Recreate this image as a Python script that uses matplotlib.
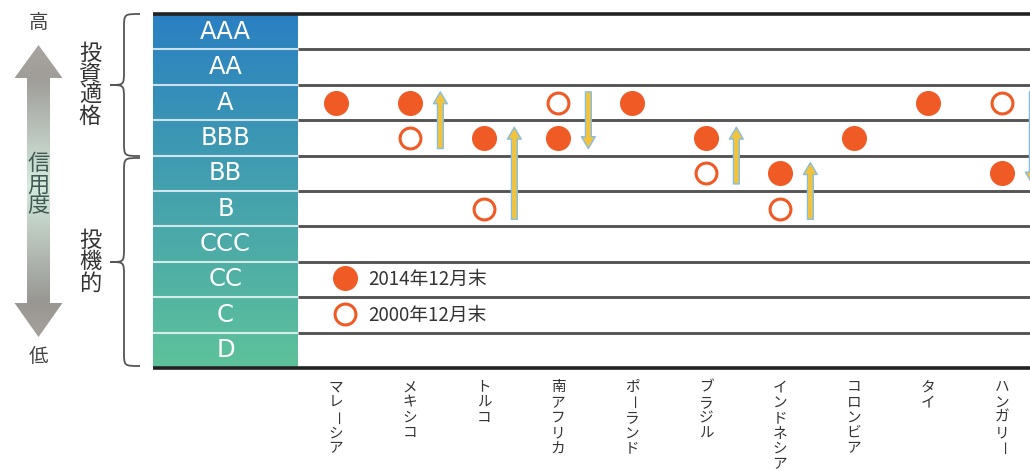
import numpy as np
import matplotlib
matplotlib.use("Agg")
import matplotlib.pyplot as plt
from matplotlib.path import Path
from matplotlib.patches import PathPatch, Polygon
from matplotlib.colors import LinearSegmentedColormap
from matplotlib.lines import Line2D

plt.rcParams['font.family'] = ['Noto Sans CJK JP', 'DejaVu Sans']

# ---------------- data ----------------
ratings = ["AAA", "AA", "A", "BBB", "BB", "B", "CCC", "CC", "C", "D"]
countries = ["マレーシア", "メキシコ", "トルコ", "南アフリカ", "ポーランド",
             "ブラジル", "インドネシア", "コロンビア", "タイ", "ハンガリー"]
rating_2014 = ["A", "A", "BBB", "BBB", "A", "BBB", "BB", "BBB", "A", "BB"]
rating_2000 = [None, "BBB", "B", "A", None, "BB", "B", None, None, "A"]
legend_labels = ["2014年12月末", "2000年12月末"]
group_labels = ["投資適格", "投機的"]
scale_top, scale_mid, scale_bot = "高", "信用度", "低"

ORANGE = "#f05a24"

# ---------------- layout (pixels) ----------------
W, H = 1030, 472
TOP, BOT = 14, 368
COL_L, COL_R = 153, 298
X0, DX = 336, 74
AX_R = 1060

fig = plt.figure(figsize=(W / 100, H / 100), dpi=100)

deco = fig.add_axes([0, 0, 1, 1], zorder=0)
deco.axis('off')

ax = fig.add_axes([COL_L / W, 1 - BOT / H, (AX_R - COL_L) / W, (BOT - TOP) / H], zorder=1)
xmin, xmax = (COL_L - X0) / DX, (AX_R - X0) / DX
n = len(ratings)
ax.axis('off')

ypos = {r: n - 1 - k for k, r in enumerate(ratings)}
col_l, col_r = xmin, (COL_R - X0) / DX

# rating column gradient (blue at top, green at bottom)
cmap = LinearSegmentedColormap.from_list("col", ["#2a80c2", "#5ec29a"])
grad = np.linspace(0, 1, 256).reshape(-1, 1)
ax.imshow(grad, extent=[col_l, col_r, -0.5, n - 0.5], origin='upper', aspect='auto',
          cmap=cmap, zorder=1)
ax.set_xlim(xmin, xmax)
ax.set_ylim(-0.5, n - 0.5)
for k in range(n - 1):
    ax.hlines(k + 0.5, col_l, col_r, color='white', alpha=0.75, lw=1.5, zorder=2)
    ax.hlines(k + 0.5, col_r, xmax, color='#555555', lw=2.1, zorder=2)
ax.hlines([-0.5, n - 0.5], col_l, xmax, color='#222222', lw=2.6, zorder=2, clip_on=False)

for r in ratings:
    ax.text((col_l + col_r) / 2, ypos[r], r, color='white', fontsize=17.5,
            ha='center', va='center', family='DejaVu Sans', zorder=3)

# dots
xc = np.arange(len(countries))
y14 = np.array([ypos[r] for r in rating_2014], dtype=float)
y00 = np.array([ypos[r] if r else np.nan for r in rating_2000], dtype=float)
ax.plot(xc, y00, 'o', ls='', ms=15, mfc='white', mec=ORANGE, mew=2.2, zorder=4)
ax.plot(xc, y14, 'o', ls='', ms=17, color=ORANGE, zorder=5)

# arrows
for i in range(len(countries)):
    if np.isnan(y00[i]) or y00[i] == y14[i]:
        continue
    d = np.sign(y14[i] - y00[i])
    ax.annotate('', xy=(i + 0.41, y14[i] + 0.3 * d), xytext=(i + 0.41, y00[i] - 0.3 * d),
                arrowprops=dict(arrowstyle='simple,head_length=0.85,head_width=1.0,tail_width=0.42',
                                mutation_scale=10, fc='#f3c33b', ec='#86bde0', lw=1,
                                shrinkA=0, shrinkB=0), zorder=4)

# x labels (vertical writing)
for i, name in enumerate(countries):
    for j, ch in enumerate(name):
        ax.annotate(ch, xy=(i, -0.5), xycoords='data',
                    xytext=(0, -14.0 - 11.0 * j), textcoords='offset points',
                    ha='center', va='center', fontsize=10.5, color='#333333',
                    rotation=(-90 if ch == 'ー' else 0), annotation_clip=False)

# legend
handles = [Line2D([], [], marker='o', ls='', ms=17, color=ORANGE),
           Line2D([], [], marker='o', ls='', ms=15, mfc='white', mec=ORANGE, mew=2.2)]
ax.legend(handles, legend_labels, loc='center left', bbox_to_anchor=(0.0, ypos["CC"] - 0.5),
          bbox_transform=ax.transData, frameon=False, fontsize=13.5, handlelength=0.98,
          handletextpad=0.74, borderpad=0, borderaxespad=0, labelspacing=0.78,
          labelcolor='#333333')

# ---------------- left decorations ----------------
cx = 38.5
pts = [(cx, 45), (cx + 24, 78), (cx + 11.5, 78), (cx + 11.5, 303), (cx + 24, 303), (cx, 337),
       (cx - 24, 303), (cx - 11.5, 303), (cx - 11.5, 78), (cx - 24, 78)]
poly = Polygon(pts, closed=True, fc='none', ec='none')
deco.add_patch(poly)
acmap = LinearSegmentedColormap.from_list(
    "arr", [(0, '#a8a39f'), (0.12, '#a09e9a'), (0.48, '#d5ebde'), (0.88, '#999793'), (1, '#a5a09c')])
im = deco.imshow(grad, extent=[cx - 25, cx + 25, 337, 45], origin='upper', aspect='auto', cmap=acmap)
im.set_clip_path(poly)
deco.set_xlim(0, W)
deco.set_ylim(H, 0)

deco.text(cx, 22, scale_top, ha='center', va='center', fontsize=14, color='#444444')
deco.text(cx, 357, scale_bot, ha='center', va='center', fontsize=14, color='#444444')
deco.text(cx, 185, "\n".join(scale_mid), ha='center', va='center', fontsize=16,
          color='#3f5a55', linespacing=0.9)

def brace(y0, y1, xe=140, xs=124, xt=110, r=14):
    ym = (y0 + y1) / 2
    verts = [(xe, y0), (xs, y0), (xs, y0), (xs, y0 + r),
             (xs, ym - r),
             (xs, ym), (xs, ym), (xt, ym),
             (xs, ym), (xs, ym), (xs, ym + r),
             (xs, y1 - r),
             (xs, y1), (xs, y1), (xe, y1)]
    codes = [Path.MOVETO, Path.CURVE4, Path.CURVE4, Path.CURVE4,
             Path.LINETO,
             Path.CURVE4, Path.CURVE4, Path.CURVE4,
             Path.CURVE4, Path.CURVE4, Path.CURVE4,
             Path.LINETO,
             Path.CURVE4, Path.CURVE4, Path.CURVE4]
    deco.add_patch(PathPatch(Path(verts, codes), fc='none', ec='#555555', lw=1.3))
    return ym

m1 = brace(14, 156)
m2 = brace(158, 366)
deco.text(90, m1, "\n".join(group_labels[0]), ha='center', va='center', fontsize=16,
          color='#333333', linespacing=0.9)
deco.text(90, m2, "\n".join(group_labels[1]), ha='center', va='center', fontsize=16,
          color='#333333', linespacing=0.9)

fig.savefig("out.png", dpi=100)
